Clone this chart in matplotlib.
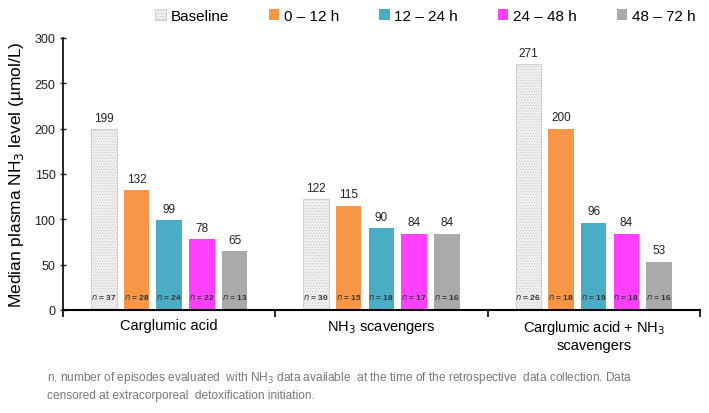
import matplotlib.pyplot as plt
import numpy as np

plt.rcParams['font.family'] = ['Liberation Sans', 'DejaVu Sans']
plt.rcParams['hatch.color'] = '#b0b0b0'
plt.rcParams['hatch.linewidth'] = 0.6

groups = ['Carglumic acid', 'NH$_3$ scavengers', 'Carglumic acid + NH$_3$\nscavengers']
periods = ['Baseline', '0 \u2013 12 h', '12 \u2013 24 h', '24 \u2013 48 h', '48 \u2013 72 h']
medians = [
    [199, 132, 99, 78, 65],
    [122, 115, 90, 84, 84],
    [271, 200, 96, 84, 53],
]
n_counts = [
    [37, 28, 24, 22, 13],
    [30, 15, 18, 17, 16],
    [26, 18, 19, 18, 16],
]
colors = ['#f2f2f2', '#f79646', '#4bacc6', '#ff40ff', '#aaaaaa']

fig = plt.figure(figsize=(7.09, 4.14), dpi=100)
ax = fig.add_axes([0.089, 0.249, 0.898, 0.657])

pitch = 0.154
width = 0.12
for i in range(len(periods)):
    xs = np.arange(len(groups)) + 0.5 + (i - 2) * pitch
    vals = [m[i] for m in medians]
    if i == 0:
        ax.bar(xs, vals, width, color=colors[i], edgecolor='#c8c8c8',
               linewidth=0.6, hatch='......', label=periods[i])
    else:
        ax.bar(xs, vals, width, color=colors[i], label=periods[i])
    for x, v, g in zip(xs, vals, range(len(groups))):
        ax.text(x, v + 6, str(v), ha='center', va='bottom', fontsize=8.5, color='#222222')
        ax.text(x, 15, r'$\it{n}$ = %d' % n_counts[g][i], ha='center', va='center',
                fontsize=6, fontweight='bold', color='#333333')

ax.set_xlim(0, 3)
ax.set_ylim(0, 300)
ax.set_yticks(np.arange(0, 301, 50))
ax.set_xticks([0, 1, 2, 3])
ax.set_xticklabels([])
ax.set_xticks([0.5, 1.5, 2.5], minor=True)
ax.set_xticklabels(groups, minor=True, fontsize=10.5)
ax.tick_params(axis='x', which='minor', length=0, pad=6)
ax.tick_params(axis='x', which='major', length=5, width=1.2, direction='out')
ax.tick_params(axis='y', length=4, width=1, direction='inout', labelsize=9, colors='#222222')
for s in ['top', 'right']:
    ax.spines[s].set_visible(False)
ax.spines['left'].set_linewidth(1.2)
ax.spines['bottom'].set_linewidth(1.5)
ax.set_ylabel('Median plasma NH$_3$ level (\u00b5mol/L)', fontsize=12.5, labelpad=6)

fig.legend(loc='upper center', bbox_to_anchor=(0.60, 1.01), ncol=5, frameon=False,
           fontsize=11, handlelength=0.7, handleheight=0.7, handletextpad=0.3,
           columnspacing=2.6)

fig.text(0.066, 0.068, 'n, number of episodes evaluated  with NH$_3$ data available  at the time of the '
         'retrospective  data collection. Data\ncensored at extracorporeal  detoxification initiation.',
         fontsize=8.6, color='#777777', va='center', linespacing=1.5)

fig.savefig('out.png', dpi=100)
